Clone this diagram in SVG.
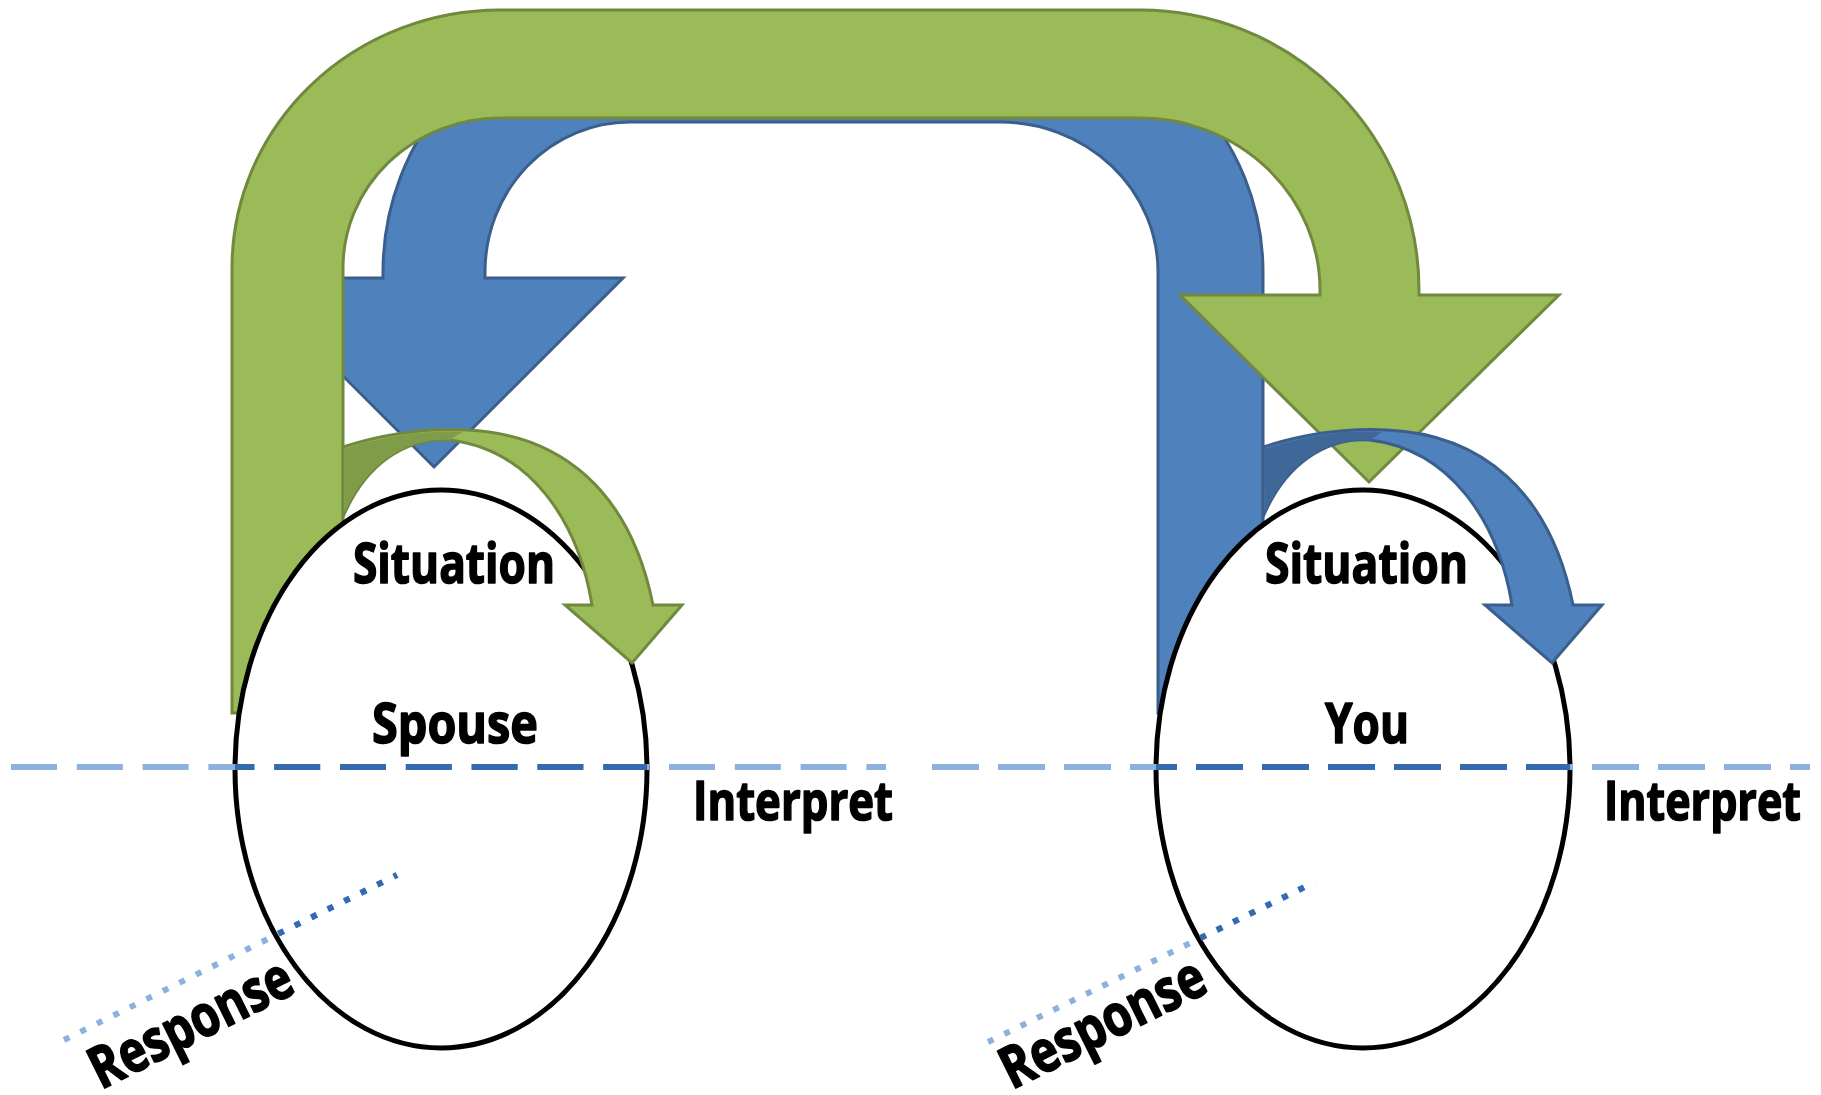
<svg xmlns="http://www.w3.org/2000/svg" width="1821" height="1095" viewBox="0 0 1821 1095">
<defs>
<style>
.g{fill:#9BBB59;stroke:#71893F;stroke-width:3}
.b{fill:#4F81BD;stroke:#3A5F8D;stroke-width:3}
.gd{fill:#7F9C48}
.bd{fill:#3F6899}
.node{fill:#fff;stroke:#000;stroke-width:5}
.t{font-family:"Open Sans","Liberation Sans",sans-serif;font-weight:700;fill:#000;stroke:#000;stroke-width:1.6;stroke-linejoin:round}
.dl{fill:none;stroke:#8DB1DD;stroke-width:6}
.dd{fill:none;stroke:#3569B0;stroke-width:6}
</style>
<clipPath id="cs"><ellipse cx="441" cy="769" rx="206" ry="279"/></clipPath>
<clipPath id="cy"><ellipse cx="1363" cy="769" rx="207" ry="279"/></clipPath>
</defs>
<rect width="1821" height="1095" fill="#fff"/>

<g id="connectors-back">
<path id="arrow-you-to-spouse" class="b" d="M1158,713 L1158,272 A158,150 0 0 0 1000,122 L630,122 A145,150 0 0 0 485,272 L485,278 L623,278 L434,467 L245,278 L383,278 L383,272 A247,257 0 0 1 630,15 L1000,15 A263,257 0 0 1 1263,272 L1263,713 Z"/>
<path id="arrow-spouse-to-you" class="g" d="M232,713 L232,268 A268,258 0 0 1 500,10 L1140,10 A279,280 0 0 1 1419,290 L1419,295 L1559,295 L1369,482 L1180,295 L1320,295 L1320,290 A180,172 0 0 0 1140,118 L500,118 A157,150 0 0 0 343,268 L343,713 Z"/>
</g>

<g id="node-spouse">
<ellipse class="node" cx="441" cy="769" rx="206" ry="279"/>
<text class="t" x="353" y="583" font-size="56" textLength="202" lengthAdjust="spacingAndGlyphs">Situation</text>
<text class="t" x="372" y="743" font-size="56" textLength="166" lengthAdjust="spacingAndGlyphs">Spouse</text>
</g>

<g id="node-you">
<ellipse class="node" cx="1363" cy="769" rx="207" ry="279"/>
<text class="t" x="1265" y="583" font-size="56" textLength="203" lengthAdjust="spacingAndGlyphs">Situation</text>
<text class="t" x="1325" y="743" font-size="56" textLength="84" lengthAdjust="spacingAndGlyphs">You</text>
</g>

<g id="connectors-front">
<g id="loop-spouse">
<path class="g" d="M343,447 C390,432 430,428 467,430 C560,434 630,490 653,605 L682,605 L632,663 L565,605 L592,605 C578,520 530,450 450,440 C405,437 365,465 343,517 Z"/>
<path class="gd" d="M344,449 C390,434 430,430 462,432 L450,440 C405,437 365,465 345,513 Z"/>
</g>
<g id="loop-you" transform="translate(920,0)">
<path class="b" d="M343,447 C390,432 430,428 467,430 C560,434 630,490 653,605 L682,605 L632,663 L565,605 L592,605 C578,520 530,450 450,440 C405,437 365,465 343,517 Z"/>
<path class="bd" d="M344,449 C390,434 430,430 462,432 L450,440 C405,437 365,465 345,513 Z"/>
</g>
<g id="interpret-lines">
<line class="dl" x1="11" y1="767" x2="886" y2="767" stroke-dasharray="46 19.8"/>
<line class="dd" x1="11" y1="767" x2="886" y2="767" stroke-dasharray="46 19.8" clip-path="url(#cs)"/>
<line class="dl" x1="932" y1="767" x2="1810" y2="767" stroke-dasharray="47 19"/>
<line class="dd" x1="932" y1="767" x2="1810" y2="767" stroke-dasharray="47 19" clip-path="url(#cy)"/>
</g>
<g id="response-lines">
<line class="dl" x1="64" y1="1040" x2="397" y2="875" stroke-dasharray="6 12.4"/>
<line class="dd" x1="64" y1="1040" x2="397" y2="875" stroke-dasharray="6 12.4" clip-path="url(#cs)"/>
<line class="dl" x1="988" y1="1042" x2="1315" y2="882" stroke-dasharray="6 12.2"/>
<line class="dd" x1="988" y1="1042" x2="1315" y2="882" stroke-dasharray="6 12.2" clip-path="url(#cy)"/>
</g>
</g>

<g id="labels">
<text class="t" x="693" y="820" font-size="54" textLength="200" lengthAdjust="spacingAndGlyphs">Interpret</text>
<text class="t" x="1604" y="820" font-size="54" textLength="197" lengthAdjust="spacingAndGlyphs">Interpret</text>
<text class="t" x="101" y="1090" font-size="58" textLength="220" lengthAdjust="spacingAndGlyphs" transform="rotate(-26.5 101 1090)">Response</text>
<text class="t" x="1012" y="1090" font-size="58" textLength="222" lengthAdjust="spacingAndGlyphs" transform="rotate(-26.5 1012 1090)">Response</text>
</g>
</svg>
